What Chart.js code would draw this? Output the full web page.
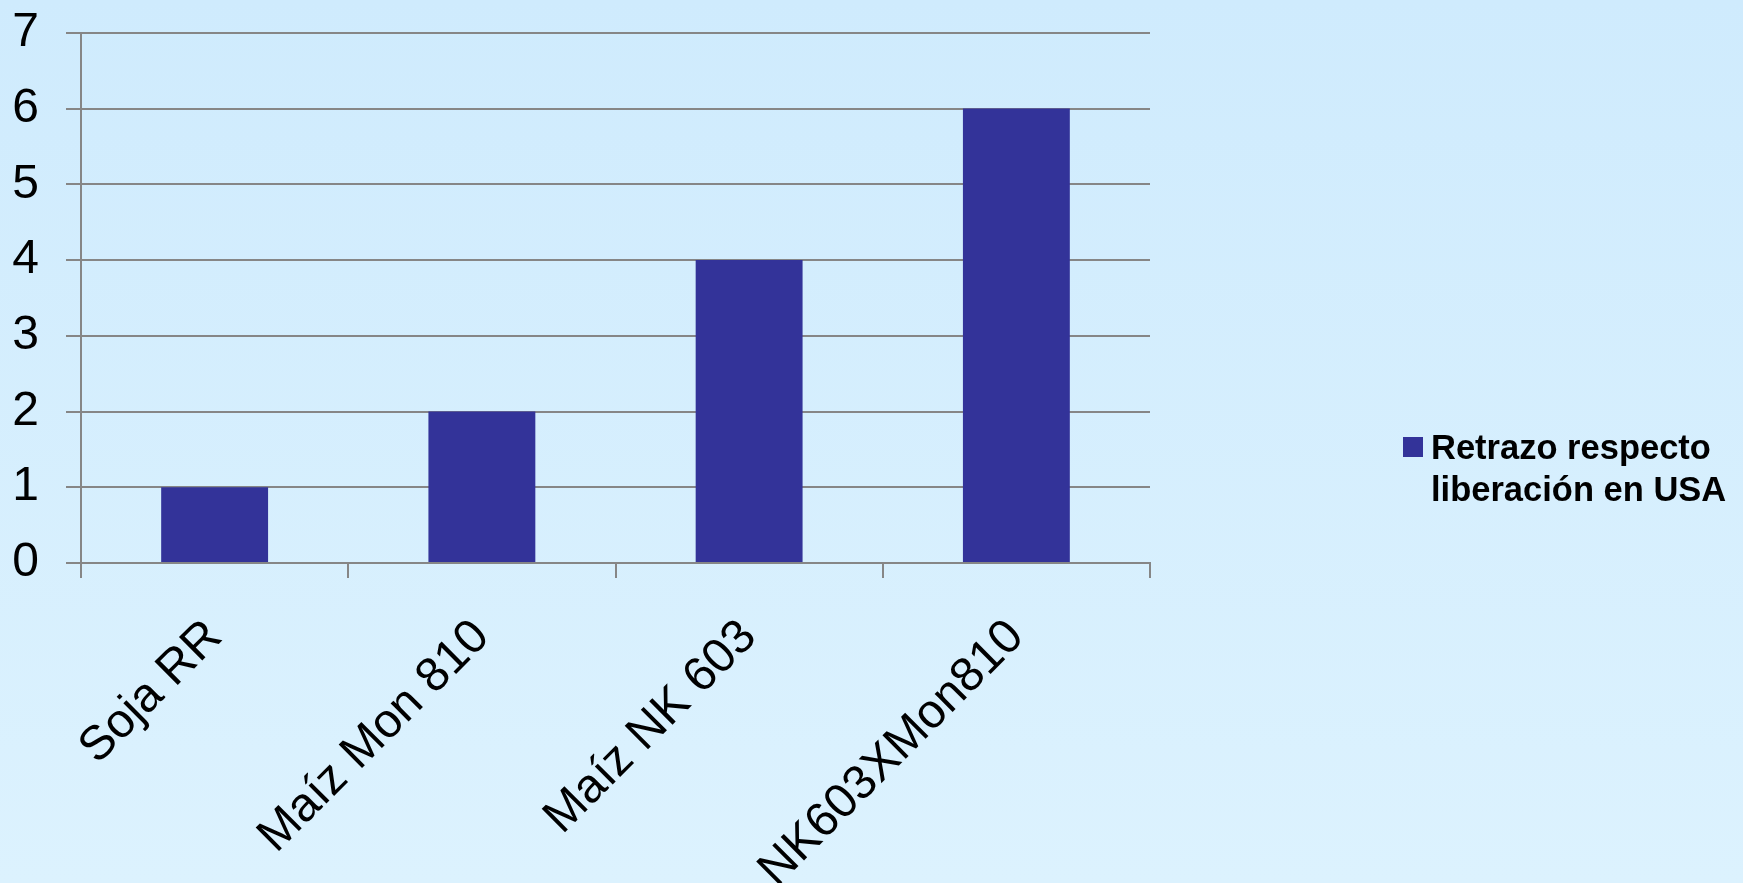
<!DOCTYPE html>
<html>
<head>
<meta charset="utf-8">
<script src="https://cdn.jsdelivr.net/npm/chart.js@4.4.1/dist/chart.umd.min.js"></script>
<style>
  html, body {
    margin: 0;
    padding: 0;
    width: 1743px;
    height: 883px;
    overflow: hidden;
    background: linear-gradient(#cfebfd, #dcf2fe);
    font-family: "Liberation Sans", Arial, sans-serif;
  }
  /* canvas starts above the page so the plot top lands at y = 31 */
  #wrap { position: absolute; left: 0; top: -23px; width: 1743px; height: 906px; }
  #legend {
    position: absolute;
    left: 1403px;
    top: 426px;
    font-size: 34.5px;
    font-weight: bold;
    line-height: 42px;
    color: #000;
  }
  #legend .item { display: flex; align-items: flex-start; }
  #legend .box { width: 20px; height: 20px; margin-top: 11px; margin-right: 8px; flex: none; }
</style>
</head>
<body>
<div id="wrap"><canvas id="barChart"></canvas></div>
<div id="legend"></div>
<script>
// chart data
const categories = ["Soja RR", "Maíz Mon 810", "Maíz NK 603", "NK603XMon810"];
const seriesName = "Retrazo respecto liberación en USA";
const seriesLines = ["Retrazo respecto", "liberación en USA"];
const delayValues = [1, 2, 4, 6];
const yTicks = [0, 1, 2, 3, 4, 5, 6, 7];

const gridColor = "#868686";
const barColor = "#333399";

const ctx = document.getElementById("barChart");

const chart = new Chart(ctx, {
  type: "bar",
  data: {
    labels: categories,
    datasets: [
      {
        label: seriesName,
        data: delayValues,
        backgroundColor: barColor,
        categoryPercentage: 1,
        barPercentage: 0.4,
      },
    ],
  },
  options: {
    responsive: true,
    maintainAspectRatio: false,
    animation: false,
    layout: {
      padding: { top: 0, right: 593, left: 0, bottom: 0 },
    },
    plugins: {
      legend: { display: false },
      tooltip: { enabled: false },
    },
    scales: {
      x: {
        afterFit: function (scale) {
          scale.height = 320;
        },
        grid: {
          drawOnChartArea: false,
          drawTicks: true,
          tickLength: 15,
          color: gridColor,
          lineWidth: 2,
        },
        border: { color: gridColor, width: 2 },
        ticks: {
          minRotation: 45,
          maxRotation: 45,
          padding: 31,
          color: "#000",
          font: { family: "'Liberation Sans', Arial, sans-serif", size: 48 },
        },
      },
      y: {
        min: yTicks[0],
        max: yTicks[yTicks.length - 1],
        afterFit: function (scale) {
          scale.width = 81;
        },
        afterBuildTicks: function (scale) {
          scale.ticks = yTicks.map(function (v) { return { value: v }; });
        },
        grid: {
          color: gridColor,
          lineWidth: 2,
          tickLength: 15,
        },
        border: { color: gridColor, width: 2 },
        ticks: {
          padding: 27,
          color: "#000",
          font: { family: "'Liberation Sans', Arial, sans-serif", size: 48 },
        },
      },
    },
  },
});

// HTML legend built from the dataset
const legendEl = document.getElementById("legend");
chart.data.datasets.forEach(function (ds) {
  const item = document.createElement("div");
  item.className = "item";
  const box = document.createElement("span");
  box.className = "box";
  box.style.background = ds.backgroundColor;
  const txt = document.createElement("span");
  txt.innerHTML = seriesLines.join("<br>");
  item.appendChild(box);
  item.appendChild(txt);
  legendEl.appendChild(item);
});
</script>
</body>
</html>
